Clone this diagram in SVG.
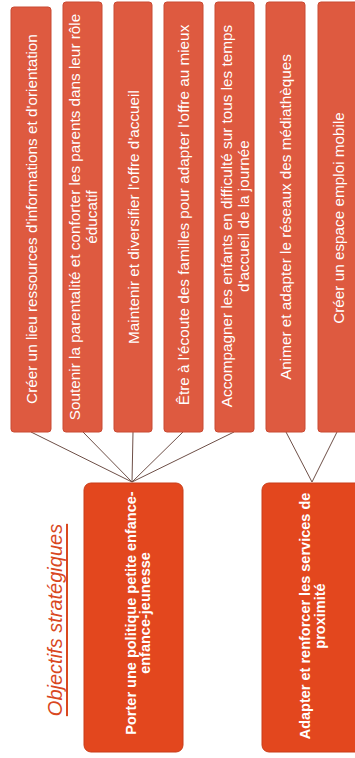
<svg xmlns="http://www.w3.org/2000/svg" width="355" height="758" viewBox="0 0 355 758">
<style>
.act{fill:#de5a40;stroke:#c94a33;stroke-width:1}
.obj{fill:#e3471e;stroke:#c93d18;stroke-width:1}
.at{font-family:"Liberation Sans",Arial,sans-serif;font-size:15.3px;fill:#fff;text-anchor:middle;dominant-baseline:central}
.ot{font-family:"Liberation Sans",Arial,sans-serif;font-size:14.5px;font-weight:bold;fill:#fff;text-anchor:middle;dominant-baseline:central}
.ln{stroke:#6e4f47;stroke-width:1;fill:none}
.title{font-family:"Liberation Sans",Arial,sans-serif;font-size:20px;font-style:italic;fill:#d9481f;text-anchor:middle;dominant-baseline:central;text-decoration:underline}
</style>
<rect width="355" height="758" fill="#fff"/>
<g id="connectors">
<line class="ln" x1="31" y1="432" x2="132" y2="482"/>
<line class="ln" x1="83" y1="432" x2="132" y2="482"/>
<line class="ln" x1="133" y1="432" x2="132" y2="482"/>
<line class="ln" x1="183" y1="432" x2="132" y2="482"/>
<line class="ln" x1="234" y1="432" x2="132" y2="482"/>
<line class="ln" x1="286" y1="432" x2="312" y2="482"/>
<line class="ln" x1="337" y1="432" x2="312" y2="482"/>
</g>
<g id="a1">
<rect class="act" x="11" y="7" width="40" height="425" rx="3"/>
<text class="at" transform="translate(31,219) rotate(-90)">Créer un lieu ressources d'informations et d'orientation</text>
</g>
<g id="a2">
<rect class="act" x="63" y="2" width="39" height="430" rx="3"/>
<text class="at" transform="translate(74,217) rotate(-90)"><tspan x="0" y="0">Soutenir la parentalité et conforter les parents dans leur rôle</tspan><tspan x="0" y="16.5">éducatif</tspan></text>
</g>
<g id="a3">
<rect class="act" x="114" y="2" width="38" height="430" rx="3"/>
<text class="at" transform="translate(133,217) rotate(-90)">Maintenir et diversifier l'offre d'accueil</text>
</g>
<g id="a4">
<rect class="act" x="164" y="2" width="39" height="430" rx="3"/>
<text class="at" transform="translate(183.5,215) rotate(-90)">Être à l'écoute des familles pour adapter l'offre au mieux</text>
</g>
<g id="a5">
<rect class="act" x="215" y="2" width="39" height="430" rx="3"/>
<text class="at" transform="translate(226,216) rotate(-90)"><tspan x="0" y="0">Accompagner les enfants en difficulté sur tous les temps</tspan><tspan x="0" y="16.5">d'accueil de la journée</tspan></text>
</g>
<g id="a6">
<rect class="act" x="266" y="2" width="39" height="430" rx="3"/>
<text class="at" transform="translate(285.5,217) rotate(-90)">Animer et adapter le réseaux des médiathèques</text>
</g>
<g id="a7">
<rect class="act" x="318" y="2" width="42" height="430" rx="3"/>
<text class="at" transform="translate(338,218) rotate(-90)">Créer un espace emploi mobile</text>
</g>
<g id="title">
<text class="title" transform="translate(55,620) rotate(-90)">Objectifs stratégiques</text>
</g>
<g id="o1">
<rect class="obj" x="84" y="483" width="99" height="269" rx="7"/>
<text class="ot" transform="translate(131,613) rotate(-90)"><tspan x="0" y="0">Porter une politique petite enfance-</tspan><tspan x="0" y="14">enfance-jeunesse</tspan></text>
</g>
<g id="o2">
<rect class="obj" x="262" y="483" width="100" height="269" rx="7"/>
<text class="ot" transform="translate(305,616) rotate(-90)"><tspan x="0" y="0">Adapter et renforcer les services de</tspan><tspan x="0" y="15">proximité</tspan></text>
</g>
</svg>
